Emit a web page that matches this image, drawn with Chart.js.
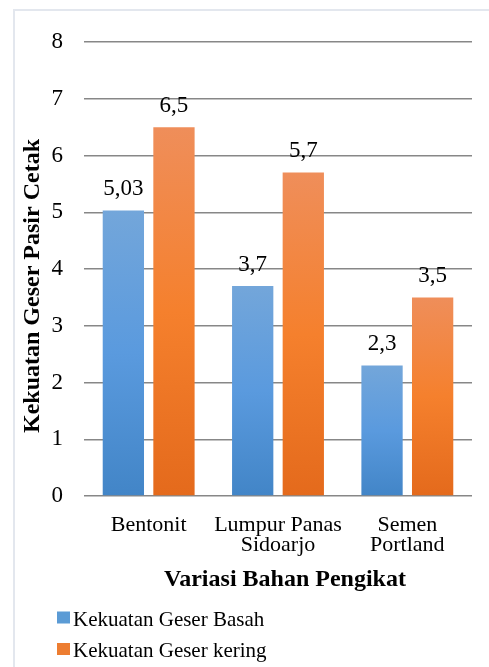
<!DOCTYPE html>
<html>
<head>
<meta charset="utf-8">
<title>Kekuatan Geser Pasir Cetak</title>
<script src="https://cdn.jsdelivr.net/npm/chart.js@4/dist/chart.umd.min.js"></script>
<style>
  html, body { margin: 0; padding: 0; background: #ffffff; }
  #wrap { position: relative; width: 489px; height: 667px; }
  canvas { display: block; }
</style>
</head>
<body>
<div id="wrap"><canvas id="chart" width="489" height="667"></canvas></div>
<script>
// Categories (binder variations) and shear strength per condition
const categories = [['Bentonit'], ['Lumpur Panas', 'Sidoarjo'], ['Semen', 'Portland']];
const basah = [5.03, 3.7, 2.3];
const kering = [6.5, 5.7, 3.5];
const seriesNames = ['Kekuatan Geser Basah', 'Kekuatan Geser kering'];
const yTicks = [0, 1, 2, 3, 4, 5, 6, 7, 8];

const SERIF = '"Liberation Serif", "Times New Roman", serif';

// Vertical gradient fill for each bar, from its top down to the zero line
function barGradient(stops, fallback) {
  return (ctx) => {
    const chart = ctx.chart;
    const area = chart.chartArea;
    if (!area || ctx.type !== 'data') return fallback;
    const y = chart.scales.y;
    const v = ctx.raw;
    const top = y.getPixelForValue(v);
    const base = y.getPixelForValue(0);
    if (!isFinite(top) || !isFinite(base) || top === base) return fallback;
    const g = chart.ctx.createLinearGradient(0, top, 0, base);
    g.addColorStop(0, stops[0]);
    g.addColorStop(0.5, stops[1]);
    g.addColorStop(1, stops[2]);
    return g;
  };
}

// Value labels above each bar, decimal comma
const valueLabels = {
  id: 'valueLabels',
  afterDatasetsDraw(chart) {
    const ctx = chart.ctx;
    ctx.save();
    ctx.font = '23px ' + SERIF;
    ctx.fillStyle = '#000000';
    ctx.textAlign = 'center';
    ctx.textBaseline = 'alphabetic';
    chart.data.datasets.forEach((ds, i) => {
      const meta = chart.getDatasetMeta(i);
      meta.data.forEach((bar, j) => {
        const txt = String(ds.data[j]).replace('.', ',');
        ctx.fillText(txt, bar.x, bar.y - 15.5);
      });
    });
    ctx.restore();
  }
};

// Axis titles, legend and the panel frame
const decorations = {
  id: 'decorations',
  beforeDraw(chart) {
    const ctx = chart.ctx;
    ctx.save();
    ctx.strokeStyle = '#e3e7ee';
    ctx.lineWidth = 2;
    ctx.beginPath();
    ctx.moveTo(14, 680);
    ctx.lineTo(14, 10);
    ctx.lineTo(500, 10);
    ctx.stroke();
    ctx.restore();
  },
  afterDraw(chart) {
    const ctx = chart.ctx;
    const area = chart.chartArea;
    ctx.save();
    ctx.fillStyle = '#000000';

    // y-axis title
    ctx.font = 'bold 24px ' + SERIF;
    ctx.textAlign = 'center';
    ctx.textBaseline = 'middle';
    ctx.save();
    ctx.translate(33, area.top + (area.bottom - area.top) / 2 + 17);
    ctx.rotate(-Math.PI / 2);
    ctx.fillText('Kekuatan Geser Pasir Cetak', 0, 0);
    ctx.restore();

    // x-axis title
    ctx.fillText('Variasi Bahan Pengikat', (area.left + area.right) / 2 + 7, area.bottom + 83.7);

    // legend, one entry per row
    ctx.font = '21px ' + SERIF;
    ctx.textAlign = 'left';
    chart.data.datasets.forEach((ds, i) => {
      const cy = 617.5 + i * 31.5;
      ctx.fillStyle = ds.legendColor;
      ctx.fillRect(57, cy - 6, 13, 12);
      ctx.fillStyle = '#000000';
      ctx.fillText(ds.label, 73, cy + 2.5);
    });
    ctx.restore();
  }
};

new Chart(document.getElementById('chart'), {
  type: 'bar',
  data: {
    labels: categories,
    datasets: [
      {
        label: seriesNames[0],
        data: basah,
        legendColor: '#5b9bd5',
        backgroundColor: barGradient(['#73a6da', '#5a9ade', '#4285c7'], '#5b9bd5'),
        borderWidth: 0,
        categoryPercentage: 0.7825,
        barPercentage: 0.816
      },
      {
        label: seriesNames[1],
        data: kering,
        legendColor: '#ed7d31',
        backgroundColor: barGradient(['#ef8e5a', '#f5802d', '#e46a1c'], '#ed7d31'),
        borderWidth: 0,
        categoryPercentage: 0.7825,
        barPercentage: 0.816
      }
    ]
  },
  options: {
    responsive: false,
    animation: false,
    devicePixelRatio: 1,
    layout: { padding: { top: 42, right: 17, left: 14, bottom: 0 } },
    plugins: {
      legend: { display: false },
      tooltip: { enabled: false },
      title: { display: false }
    },
    scales: {
      x: {
        grid: { display: false, drawTicks: false },
        border: { display: false },
        ticks: {
          color: '#000000',
          padding: 19,
          font: { family: SERIF, size: 22, lineHeight: 0.93 },
          maxRotation: 0,
          autoSkip: false
        },
        afterFit(scale) { scale.height = 171; }
      },
      y: {
        min: 0,
        max: 8,
        afterBuildTicks(scale) { scale.ticks = yTicks.map(v => ({ value: v })); },
        grid: { color: '#878787', lineWidth: 1.5, drawTicks: false },
        border: { display: false },
        ticks: {
          color: '#000000',
          padding: 21,
          font: { family: SERIF, size: 23 },
          callback: (v) => String(v)
        },
        afterFit(scale) { scale.width = 70; }
      }
    }
  },
  plugins: [valueLabels, decorations]
});
</script>
</body>
</html>
